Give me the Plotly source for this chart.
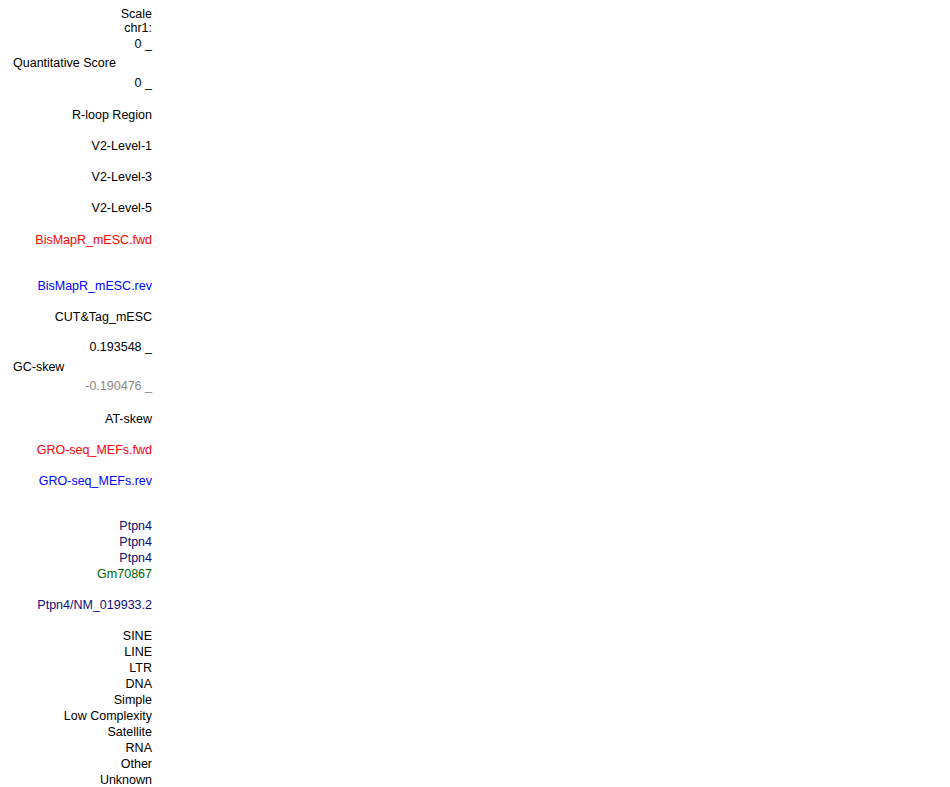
import plotly.graph_objects as go

# label text, vertical centre (px from top of the window), colour, side of the panel
labels = ['Scale', 'chr1:', '0 _', 'Quantitative Score', '0 _', 'R-loop Region',
          'V2-Level-1', 'V2-Level-3', 'V2-Level-5', 'BisMapR_mESC.fwd',
          'BisMapR_mESC.rev', 'CUT&Tag_mESC', '0.193548 _', 'GC-skew',
          '-0.190476 _', 'AT-skew', 'GRO-seq_MEFs.fwd', 'GRO-seq_MEFs.rev',
          'Ptpn4', 'Ptpn4', 'Ptpn4', 'Gm70867', 'Ptpn4/NM_019933.2',
          'SINE', 'LINE', 'LTR', 'DNA', 'Simple', 'Low Complexity',
          'Satellite', 'RNA', 'Other', 'Unknown']
rows = [13, 27, 43, 62, 82, 114, 145, 176, 207, 239, 285, 316, 346, 366, 385,
        418, 449, 480, 525, 541, 557, 573, 604, 635, 651, 667, 683, 699, 715,
        731, 747, 763, 779]
colors = ['black'] * 9 + ['#ff0000', '#0000ff', 'black', 'black', 'black', '#888888',
          'black', '#ff0000', '#0000ff', '#0c0c80', '#0c0c80', '#0c0c80', '#006400',
          '#0c0c80'] + ['black'] * 10
left_side = ['Quantitative Score', 'GC-skew']

fig = go.Figure()
for side in ['right', 'left']:
    idx = [i for i, t in enumerate(labels) if (t in left_side) == (side == 'left')]
    fig.add_trace(go.Scatter(
        x=[13 if side == 'left' else 152] * len(idx),
        y=[rows[i] for i in idx],
        text=[labels[i] for i in idx],
        mode='text',
        cliponaxis=False,
        textposition='middle right' if side == 'left' else 'middle left',
        textfont=dict(family='Liberation Sans, Arial', size=12.5,
                      color=[colors[i] for i in idx]),
        hoverinfo='skip', showlegend=False))

# the page body has an 8px margin, so the axes are shifted to window pixels
fig.update_layout(width=950, height=787, margin=dict(l=0, r=0, t=0, b=0),
                  paper_bgcolor='white', plot_bgcolor='white',
                  xaxis=dict(range=[8, 958], visible=False),
                  yaxis=dict(range=[793, 6], visible=False))
fig.write_html('out.html')
